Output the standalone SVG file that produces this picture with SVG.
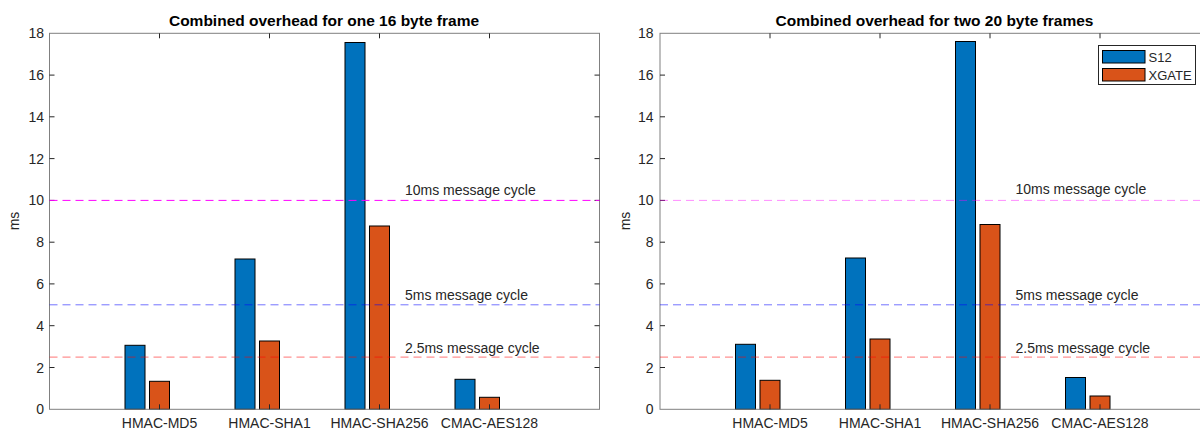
<svg xmlns="http://www.w3.org/2000/svg" width="1200" height="432" viewBox="0 0 1200 432">
<style>
text{font-family:"Liberation Sans",Arial,sans-serif;fill:#262626}
.title{font-size:15.5px;font-weight:bold;fill:#000;text-anchor:middle}
.yt{font-size:14px;text-anchor:end}
.xt{font-size:14px;text-anchor:middle}
.lbl{font-size:14px}
.axis{fill:none;stroke:#808080;stroke-width:1}
.tick{stroke:#262626;stroke-width:1}
.b1{fill:#0072BD;stroke:#000;stroke-width:1}
.b2{fill:#D95319;stroke:#000;stroke-width:1}
.dash{stroke-dasharray:8 5;stroke-width:1;fill:none}
.lg{font-size:13px}
</style>
<rect width="1200" height="432" fill="#fff"/>

<g id="chart-left">
  <text class="title" x="324" y="26">Combined overhead for one 16 byte frame</text>
  <text class="lbl" transform="translate(19,221) rotate(-90)" text-anchor="middle">ms</text>
  <g id="yticks-left">
    <text class="yt" x="44" y="414.3">0</text>
    <text class="yt" x="44" y="372.5">2</text>
    <text class="yt" x="44" y="330.7">4</text>
    <text class="yt" x="44" y="288.9">6</text>
    <text class="yt" x="44" y="247.2">8</text>
    <text class="yt" x="44" y="205.4">10</text>
    <text class="yt" x="44" y="163.6">12</text>
    <text class="yt" x="44" y="121.8">14</text>
    <text class="yt" x="44" y="80.1">16</text>
    <text class="yt" x="44" y="38.3">18</text>
  </g>
  <g id="bars-left">
    <rect id="l-md5-s12" class="b1" x="125" y="345.3" width="20" height="64"/>
    <rect id="l-md5-xg" class="b2" x="149.5" y="381.3" width="20" height="28"/>
    <rect id="l-sha1-s12" class="b1" x="235" y="259" width="20" height="150.3"/>
    <rect id="l-sha1-xg" class="b2" x="259.5" y="341" width="20" height="68.3"/>
    <rect id="l-sha256-s12" class="b1" x="345" y="42.5" width="20" height="366.8"/>
    <rect id="l-sha256-xg" class="b2" x="369.5" y="226" width="20" height="183.3"/>
    <rect id="l-aes-s12" class="b1" x="455" y="379.3" width="20" height="30"/>
    <rect id="l-aes-xg" class="b2" x="479.5" y="397.3" width="20" height="12"/>
  </g>
  <g id="axes-left">
    <rect class="axis" x="49.5" y="33.3" width="550" height="376"/>
    <path class="tick" d="M159.5 409.3v-5M269.5 409.3v-5M379.5 409.3v-5M489.5 409.3v-5M159.5 33.3v5M269.5 33.3v5M379.5 33.3v5M489.5 33.3v5"/>
    <path class="tick" d="M49.5 367.5h5M49.5 325.7h5M49.5 283.9h5M49.5 242.2h5M49.5 200.4h5M49.5 158.6h5M49.5 116.8h5M49.5 75.1h5M599.5 367.5h-5M599.5 325.7h-5M599.5 283.9h-5M599.5 242.2h-5M599.5 200.4h-5M599.5 158.6h-5M599.5 116.8h-5M599.5 75.1h-5"/>
  </g>
  <g id="connectors-left">
    <line class="dash" x1="49.5" y1="200.4" x2="599.5" y2="200.4" stroke="#ff00ff"/>
    <line class="dash" x1="49.5" y1="304.8" x2="599.5" y2="304.8" stroke="#0000ff" stroke-opacity="0.55"/>
    <line class="dash" x1="49.5" y1="357.1" x2="599.5" y2="357.1" stroke="#ff0000" stroke-opacity="0.55"/>
  </g>
  <text class="lbl" x="405" y="195">10ms message cycle</text>
  <text class="lbl" x="405" y="300">5ms message cycle</text>
  <text class="lbl" x="405" y="352.5">2.5ms message cycle</text>
  <g id="xticks-left">
    <text class="xt" x="159.5" y="428">HMAC-MD5</text>
    <text class="xt" x="269.5" y="428">HMAC-SHA1</text>
    <text class="xt" x="379.5" y="428">HMAC-SHA256</text>
    <text class="xt" x="489.5" y="428">CMAC-AES128</text>
  </g>
</g>

<g id="chart-right" transform="translate(610.5,0)">
  <text class="title" x="324" y="26">Combined overhead for two 20 byte frames</text>
  <text class="lbl" transform="translate(19,221) rotate(-90)" text-anchor="middle">ms</text>
  <g id="yticks-right">
    <text class="yt" x="43" y="414.3">0</text>
    <text class="yt" x="43" y="372.5">2</text>
    <text class="yt" x="43" y="330.7">4</text>
    <text class="yt" x="43" y="288.9">6</text>
    <text class="yt" x="43" y="247.2">8</text>
    <text class="yt" x="43" y="205.4">10</text>
    <text class="yt" x="43" y="163.6">12</text>
    <text class="yt" x="43" y="121.8">14</text>
    <text class="yt" x="43" y="80.1">16</text>
    <text class="yt" x="43" y="38.3">18</text>
  </g>
  <g id="bars-right">
    <rect id="r-md5-s12" class="b1" x="125" y="344.3" width="20" height="65"/>
    <rect id="r-md5-xg" class="b2" x="149.5" y="380.3" width="20" height="29"/>
    <rect id="r-sha1-s12" class="b1" x="235" y="258" width="20" height="151.3"/>
    <rect id="r-sha1-xg" class="b2" x="259.5" y="339" width="20" height="70.3"/>
    <rect id="r-sha256-s12" class="b1" x="345" y="41.5" width="20" height="367.8"/>
    <rect id="r-sha256-xg" class="b2" x="369.5" y="224.5" width="20" height="184.8"/>
    <rect id="r-aes-s12" class="b1" x="455" y="377.5" width="20" height="31.8"/>
    <rect id="r-aes-xg" class="b2" x="479.5" y="396" width="20" height="13.3"/>
  </g>
  <g id="axes-right">
    <rect class="axis" x="49.5" y="33.3" width="550" height="376"/>
    <path class="tick" d="M159.5 409.3v-5M269.5 409.3v-5M379.5 409.3v-5M489.5 409.3v-5M159.5 33.3v5M269.5 33.3v5M379.5 33.3v5M489.5 33.3v5"/>
    <path class="tick" d="M49.5 367.5h5M49.5 325.7h5M49.5 283.9h5M49.5 242.2h5M49.5 200.4h5M49.5 158.6h5M49.5 116.8h5M49.5 75.1h5"/>
  </g>
  <g id="connectors-right">
    <line class="dash" x1="49.5" y1="200.4" x2="599.5" y2="200.4" stroke="#ff00ff" stroke-opacity="0.45"/>
    <line class="dash" x1="49.5" y1="304.8" x2="599.5" y2="304.8" stroke="#0000ff" stroke-opacity="0.55"/>
    <line class="dash" x1="49.5" y1="357.1" x2="599.5" y2="357.1" stroke="#ff0000" stroke-opacity="0.55"/>
  </g>
  <text class="lbl" x="405" y="194">10ms message cycle</text>
  <text class="lbl" x="405" y="300">5ms message cycle</text>
  <text class="lbl" x="405" y="352.5">2.5ms message cycle</text>
  <g id="xticks-right">
    <text class="xt" x="159.5" y="428">HMAC-MD5</text>
    <text class="xt" x="269.5" y="428">HMAC-SHA1</text>
    <text class="xt" x="379.5" y="428">HMAC-SHA256</text>
    <text class="xt" x="489.5" y="428">CMAC-AES128</text>
  </g>
</g>

<g id="legend">
  <rect x="1098.5" y="45.5" width="97" height="39" fill="#fff" stroke="#262626" stroke-width="1"/>
  <rect class="b1" x="1102.5" y="50.5" width="42.5" height="12.5"/>
  <text class="lg" x="1148.5" y="61.5">S12</text>
  <rect class="b2" x="1102.5" y="68.5" width="42.5" height="12.5"/>
  <text class="lg" x="1148.5" y="79.5">XGATE</text>
</g>
</svg>
